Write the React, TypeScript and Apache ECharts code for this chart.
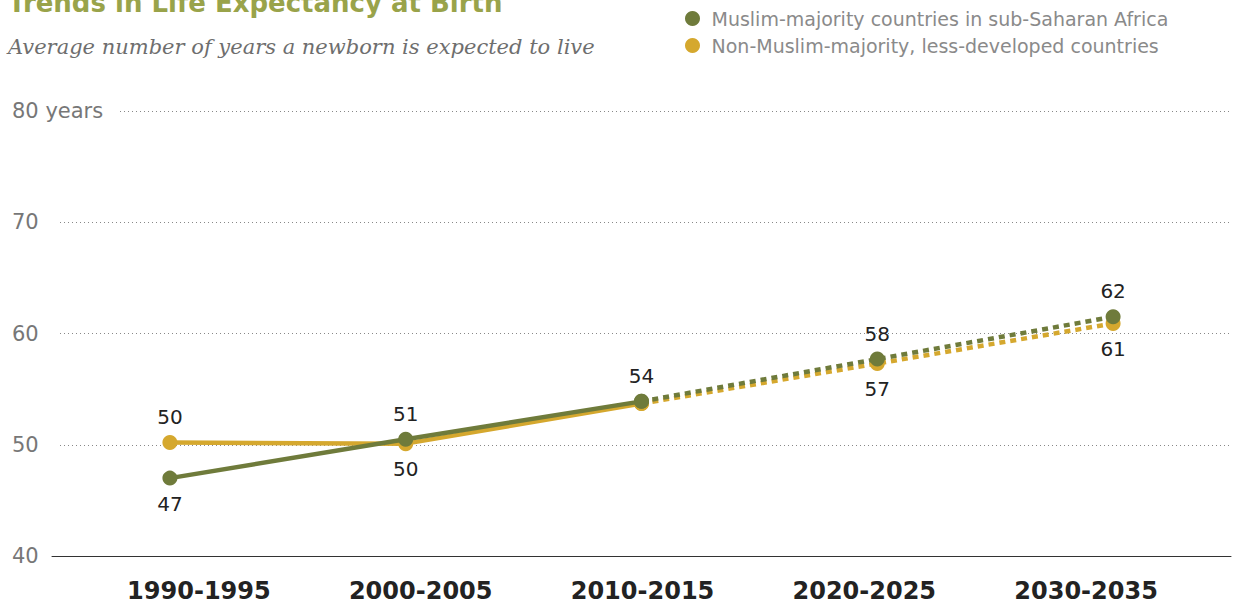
import React, { useEffect, useRef } from "react";
import * as echarts from "echarts";

const periods = ["1990-1995", "2000-2005", "2010-2015", "2020-2025", "2030-2035"];
const muslimValues = [47.0, 50.5, 53.9, 57.7, 61.5];
const otherValues = [50.2, 50.1, 53.7, 57.3, 60.9];
const muslimName = "Muslim-majority countries in sub-Saharan Africa";
const otherName = "Non-Muslim-majority, less-developed countries";
// label placement per point: "top" | "bottom" | null
const muslimLabelPos = ["bottom", "top", "top", "top", "top"];
const otherLabelPos = ["top", "bottom", null, "bottom", "bottom"];
const yTicks = { min: 40, max: 80, interval: 10 };
const lastObserved = 2;

const GREEN = "#6f7b3b";
const GOLD = "#d5a82e";
const FONT = "'DejaVu Sans', Verdana, sans-serif";

function buildData(values: number[], pos: (string | null)[], solid: boolean) {
  return values.map((v, i) => {
    const inRange = solid ? i <= lastObserved : i >= lastObserved;
    if (!inRange) return "-";
    const owns = solid ? i <= lastObserved : i > lastObserved;
    const p = pos[i];
    return {
      value: v,
      label: owns && p
        ? { show: true, position: p, distance: 8 }
        : { show: false },
    };
  });
}

export default function App() {
  const ref = useRef<HTMLDivElement>(null);
  useEffect(() => {
    const chart = echarts.init(ref.current!, null, { renderer: "svg" });
    const labelCommon = {
      formatter: (p: any) => String(Math.round(p.value)),
      fontFamily: FONT,
      fontSize: 20,
      color: "#222",
    };
    const mk = (name: string, values: number[], pos: (string | null)[], color: string, solid: boolean, z: number) => ({
      type: "line",
      name,
      xAxisIndex: 0,
      yAxisIndex: 0,
      data: buildData(values, pos, solid),
      symbol: "circle",
      symbolSize: 15,
      showSymbol: true,
      z,
      itemStyle: { color },
      lineStyle: { color, width: 4.5, type: solid ? "solid" : [6, 5] },
      label: labelCommon,
      emphasis: { disabled: true },
    });
    chart.setOption({
      animation: false,
      graphic: [
        {
          type: "text",
          left: 8,
          top: -10,
          style: {
            text: "Trends in Life Expectancy at Birth",
            font: `bold 26px ${FONT}`,
            fill: "#99a34a",
          },
        },
        {
          type: "text",
          left: 8,
          top: 36,
          style: {
            text: "Average number of years a newborn is expected to live",
            font: "italic 21px 'DejaVu Serif', Georgia, serif",
            fill: "#6e6e6e",
          },
        },
      ],
      legend: {
        orient: "vertical",
        left: 680,
        top: 4,
        icon: "circle",
        itemWidth: 28,
        itemHeight: 15,
        itemGap: 8,
        data: [muslimName, otherName],
        textStyle: { fontFamily: FONT, fontSize: 19, color: "#8a8a8a" },
        selectedMode: false,
      },
      grid: [
        { left: 52, right: 8, top: 111, bottom: 49 },
        { left: 88, right: 42, top: 111, bottom: 49 },
      ],
      xAxis: [
        {
          type: "category",
          gridIndex: 0,
          data: periods,
          boundaryGap: true,
          axisLine: { show: true, lineStyle: { color: "#333", width: 1 } },
          axisTick: { show: false },
          axisLabel: { show: false },
        },
        {
          type: "category",
          gridIndex: 1,
          data: periods,
          boundaryGap: true,
          axisLine: { show: false },
          axisTick: { show: false },
          axisLabel: {
            margin: 23,
            fontFamily: FONT,
            fontSize: 24,
            fontWeight: "bold",
            color: "#222",
          },
        },
      ],
      yAxis: [
        {
          type: "value",
          gridIndex: 0,
          min: yTicks.min,
          max: yTicks.max,
          interval: yTicks.interval,
          axisLine: { show: false },
          axisTick: { show: false },
          splitLine: {
            show: true,
            lineStyle: { color: "#888", type: [1, 3], width: 1 },
          },
          axisLabel: {
            align: "left",
            margin: 40,
            formatter: (v: number) =>
              v === yTicks.max ? `{b|${v} years}` : v === yTicks.min ? `{c|${v}}` : `{a|${v}}`,
            rich: {
              a: { width: 48, backgroundColor: "#fff", fontFamily: FONT, fontSize: 21, color: "#777" },
              b: { width: 105, backgroundColor: "#fff", fontFamily: FONT, fontSize: 21, color: "#777" },
              c: { fontFamily: FONT, fontSize: 21, color: "#777" },
            },
          },
        },
        {
          type: "value",
          gridIndex: 1,
          min: yTicks.min,
          max: yTicks.max,
          interval: yTicks.interval,
          show: false,
        },
      ],
      series: [
        mk(otherName, otherValues, otherLabelPos, GOLD, true, 2),
        mk(otherName, otherValues, otherLabelPos, GOLD, false, 2),
        mk(muslimName, muslimValues, muslimLabelPos, GREEN, true, 3),
        mk(muslimName, muslimValues, muslimLabelPos, GREEN, false, 3),
      ],
    });
    return () => chart.dispose();
  }, []);
  return <div ref={ref} style={{ width: 1239, height: 605, position: "absolute", left: 0, top: 0 }} />;
}
